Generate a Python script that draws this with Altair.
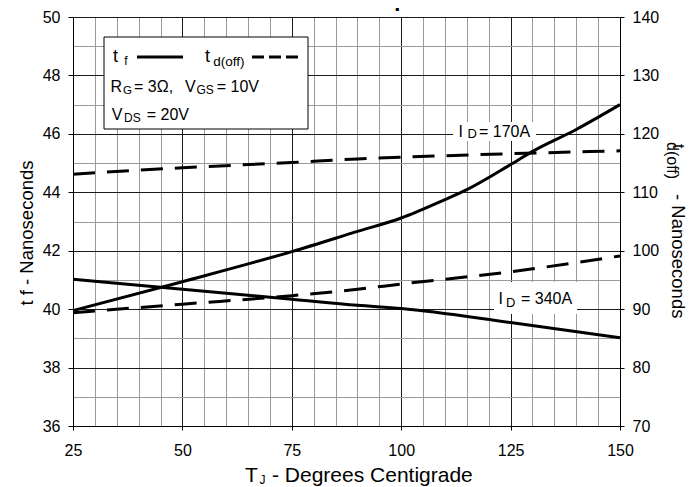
import altair as alt
import pandas as pd

# ---- data ----
temps_tf170 = [25, 50, 75, 90, 100, 110, 115, 125, 130, 140, 150]
tf_170 = [39.95, 40.94, 41.97, 42.66, 43.12, 43.75, 44.09, 44.95, 45.4, 46.15, 47.0]
temps_tf340 = [25, 50, 75, 90, 100, 125, 150]
tf_340 = [41.02, 40.68, 40.34, 40.13, 40.02, 39.54, 39.02]
temps_td = [25, 50, 75, 90, 100, 125, 150]
td_170 = [113.1, 114.2, 115.1, 115.7, 116.0, 116.6, 117.1]
td_340 = [89.4, 90.85, 92.3, 93.4, 94.3, 96.4, 99.1]

x_ticks = list(range(25, 151, 5))
yl_ticks = list(range(36, 51))
yr_ticks = list(range(70, 141, 10))

FONT = "Liberation Sans"

tf_df = pd.concat([
    pd.DataFrame({"T": temps_tf170, "v": tf_170, "id": "170A"}),
    pd.DataFrame({"T": temps_tf340, "v": tf_340, "id": "340A"}),
])
td_df = pd.concat([
    pd.DataFrame({"T": temps_td, "v": td_170, "id": "170A"}),
    pd.DataFrame({"T": temps_td, "v": td_340, "id": "340A"}),
])

x_axis = alt.Axis(
    values=x_ticks,
    labelExpr="datum.value % 25 === 0 ? datum.label : ''",
    grid=True,
    gridColor={"condition": {"test": "datum.value % 25 === 0", "value": "#1a1a1a"}, "value": "#9a9a9a"},
    tickColor={"condition": {"test": "datum.value % 25 === 0", "value": "black"}, "value": "transparent"},
    gridWidth=1, tickSize=4, labelFontSize=16, labelFont=FONT, labelColor="black",
    labelPadding=12, labelFlush=False, labelOverlap=False, domainColor="black", title=None,
)
yl_axis = alt.Axis(
    orient="left",
    values=yl_ticks,
    labelExpr="datum.value % 2 === 0 ? datum.label : ''",
    grid=True,
    gridColor={"condition": {"test": "datum.value % 2 === 0", "value": "#1a1a1a"}, "value": "#9a9a9a"},
    tickColor={"condition": {"test": "datum.value % 2 === 0", "value": "black"}, "value": "transparent"},
    gridWidth=1, tickSize=5, labelFontSize=16, labelFont=FONT, labelColor="black",
    labelPadding=8, labelFlush=False, labelOverlap=False, domainColor="black", title=None,
)
yr_axis = alt.Axis(
    orient="right", values=yr_ticks, grid=False, tickSize=4, tickColor="black",
    labelFontSize=16, labelFont=FONT, labelColor="black", labelPadding=8,
    labelFlush=False, labelOverlap=False, domainColor="black", title=None,
)

xs = alt.Scale(domain=[25, 150], nice=False, zero=False)

tf_layer = alt.Chart(tf_df).mark_line(color="black", strokeWidth=3, interpolate="monotone").encode(
    x=alt.X("T:Q", scale=xs, axis=x_axis),
    y=alt.Y("v:Q", scale=alt.Scale(domain=[36, 50], nice=False, zero=False), axis=yl_axis),
    detail="id:N",
)
td_layer = alt.Chart(td_df).mark_line(color="black", strokeWidth=3, strokeDash=[22, 12], interpolate="monotone").encode(
    x=alt.X("T:Q", scale=xs, axis=x_axis),
    y=alt.Y("v:Q", scale=alt.Scale(domain=[70, 140], nice=False, zero=False), axis=yr_axis),
    detail="id:N",
)

dummy = pd.DataFrame({"k": [0]})


def txt(s, px, py, size, angle=0, align="left", weight="normal"):
    return alt.Chart(dummy).mark_text(
        text=s, fontSize=size, font=FONT, align=align, baseline="alphabetic",
        angle=angle, color="black", fontWeight=weight,
    ).encode(x=alt.value(px), y=alt.value(py))


def box(x1, x2, y1, y2, stroke=None):
    kw = dict(fill="white")
    if stroke:
        kw.update(stroke=stroke, strokeWidth=1)
    return alt.Chart(dummy).mark_rect(**kw).encode(
        x=alt.value(x1), x2=alt.value(x2), y=alt.value(y1), y2=alt.value(y2))


def hline(x1, x2, y, dash=None):
    kw = dict(color="black", strokeWidth=3)
    if dash:
        kw.update(strokeDash=dash)
    return alt.Chart(dummy).mark_rule(**kw).encode(
        x=alt.value(x1), x2=alt.value(x2), y=alt.value(y))


annotations = [
    # legend box
    box(31, 235, 20, 112, stroke="black"),
    txt("t", 40, 44.7, 18), txt("f", 51.3, 48, 12), hline(64, 110, 40),
    txt("t", 132, 44.7, 18), txt("d(off)", 140.3, 48.5, 13.5), hline(179, 229, 40, dash=[12, 5]),
    txt("R", 37.5, 74.7, 16), txt("G", 50, 77, 11.5), txt("= 3Ω,", 61, 74.7, 16),
    txt("V", 112, 74.7, 16), txt("GS", 123.5, 77, 12), txt("= 10V", 143.7, 74.7, 16),
    txt("V", 38.7, 103, 16), txt("DS", 51, 105, 12), txt("= 20V", 73.7, 103, 16),
    # current labels
    box(380, 463, 105, 124),
    txt("I", 385.5, 119.5, 16), txt("D", 394.5, 121, 13), txt("= 170A", 406, 119.5, 16),
    box(421, 504, 265, 297),
    txt("I", 425.5, 287, 16), txt("D", 433, 290.3, 13), txt("= 340A", 448, 287, 16),
    # axis titles
    txt("t f - Nanoseconds", -40, 216, 18.5, angle=270, align="center"),
    txt("t", 599.5, 127, 16, angle=90), txt("d(off)", 594, 125, 16, angle=90),
    txt("- Nanoseconds", 599, 177, 18.5, angle=90),
    txt("T", 172, 465, 21), txt("J", 186.5, 467, 12), txt("- Degrees Centigrade", 199, 465, 21),
    # title (cut off at top in the reference)
    txt("Vs. Junction Temperature", 275, -11, 22, align="center", weight="bold"),
]

chart = alt.layer(tf_layer, td_layer, *annotations).resolve_scale(y="independent").properties(
    width=547, height=409,
    padding={"left": 65, "top": 9, "right": 68, "bottom": 62},
    autosize=alt.AutoSizeParams(type="none"),
).configure_view(stroke=None)

chart.save("out.html", embed_options={"renderer": "svg", "actions": False})
